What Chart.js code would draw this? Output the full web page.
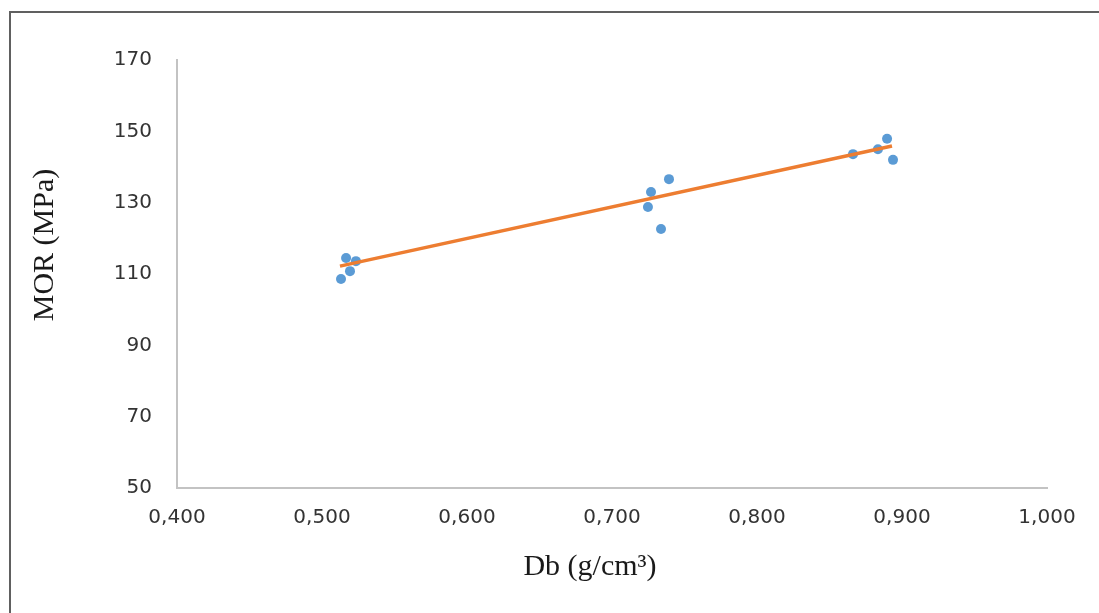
<!DOCTYPE html>
<html>
<head>
<meta charset="utf-8">
<script src="https://cdn.jsdelivr.net/npm/chart.js@4"></script>
<style>
  html, body { margin: 0; padding: 0; background: #fff; }
  #wrap { position: relative; width: 1099px; height: 613px; overflow: hidden; }
  #frame { position: absolute; left: 9px; top: 11px; width: 1200px; height: 700px;
           border-top: 2px solid #606060; border-left: 2px solid #606060; }
  canvas { position: absolute; left: 0; top: 0; }
</style>
</head>
<body>
<div id="wrap">
  <div id="frame"></div>
  <canvas id="mor-chart" width="1099" height="613"></canvas>
</div>
<script>
const dbValues = [0.5131, 0.5166, 0.5193, 0.5234, 0.7248, 0.7269, 0.7338, 0.7393, 0.8662, 0.8834, 0.8897, 0.8938];
const morValues = [108.6, 114.5, 110.8, 113.6, 128.8, 133.0, 122.6, 136.6, 143.6, 145.0, 147.9, 142.0];

// Linear trend line ends
const trendDb = [0.5124, 0.8931];
const trendMor = [112.2, 145.9];

const xTitle = 'Db (g/cm³)';
const yTitle = 'MOR (MPa)';

// Axis titles sit a little off centre in the original, so draw them by hand
const axisTitles = {
  id: 'axisTitles',
  afterDraw(chart) {
    const {ctx, chartArea} = chart;
    ctx.save();
    ctx.fillStyle = '#1a1a1a';
    ctx.font = '30px "Liberation Serif", "Times New Roman", serif';
    ctx.textAlign = 'center';
    ctx.textBaseline = 'middle';
    ctx.fillText(xTitle, (chartArea.left + chartArea.right) / 2 - 22, chart.height - 46);
    ctx.translate(45, (chartArea.top + chartArea.bottom) / 2 - 29);
    ctx.rotate(-Math.PI / 2);
    ctx.fillText(yTitle, 0, 0);
    ctx.restore();
  }
};

const ctx = document.getElementById('mor-chart').getContext('2d');
new Chart(ctx, {
  type: 'scatter',
  data: {
    datasets: [{
      // trend line on top of the dots
      type: 'line',
      label: 'trend',
      order: 0,
      data: trendDb.map((x, i) => ({x: x, y: trendMor[i]})),
      borderColor: '#ed7d31',
      borderWidth: 3.5,
      pointRadius: 0,
      fill: false
    }, {
      label: 'MOR',
      order: 1,
      data: dbValues.map((x, i) => ({x: x, y: morValues[i]})),
      backgroundColor: '#5b9bd5',
      borderWidth: 0,
      pointRadius: 5
    }]
  },
  options: {
    responsive: false,
    animation: false,
    layout: { padding: { left: 0, top: 60, right: 52, bottom: 0 } },
    plugins: { legend: { display: false }, tooltip: { enabled: false } },
    scales: {
      x: {
        type: 'linear',
        min: 0.4,
        max: 1.0,
        grid: { display: false, drawTicks: false },
        border: { color: '#c3c3c3', width: 2 },
        ticks: {
          stepSize: 0.1,
          padding: 18,
          color: '#333333',
          font: { family: 'DejaVu Sans', size: 20 },
          callback: (v) => v.toFixed(3).replace('.', ',')
        },
        afterFit: (scale) => { scale.height = 125; }
      },
      y: {
        min: 50,
        max: 170,
        grid: { display: false, drawTicks: false },
        border: { color: '#c3c3c3', width: 2 },
        ticks: {
          stepSize: 20,
          padding: 25,
          color: '#333333',
          font: { family: 'DejaVu Sans', size: 20 }
        },
        afterFit: (scale) => { scale.width = 177; }
      }
    }
  },
  plugins: [axisTitles]
});
</script>
</body>
</html>
